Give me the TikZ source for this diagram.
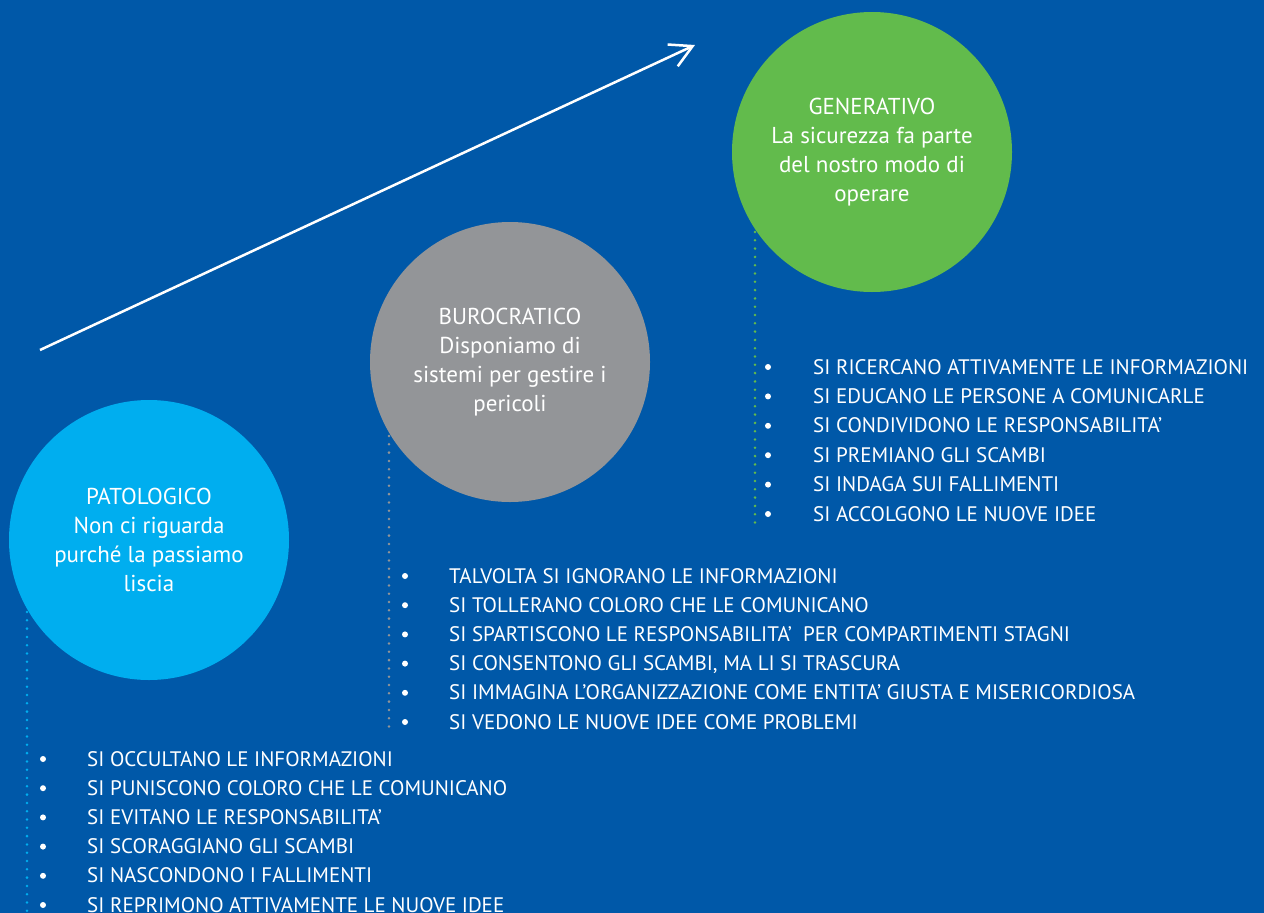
\documentclass[tikz,border=0pt]{standalone}
\usepackage{fontspec}
\setmainfont{PT Sans}
\usetikzlibrary{arrows.meta}
\definecolor{fondo}{RGB}{0,88,168}
\definecolor{verde}{RGB}{98,187,76}
\definecolor{grigio}{RGB}{147,149,152}
\definecolor{azzurro}{RGB}{0,174,239}
\begin{document}
\begin{tikzpicture}[x=1pt,y=-1pt]
        \tikzstyle{livello} = [circle, minimum size=280pt, inner sep=0pt, text=white, align=center, font=\fontsize{23}{29}\selectfont]
        \tikzstyle{voce} = [anchor=base west, inner sep=0pt, text=white, font=\fontsize{21}{24}\selectfont]
        \tikzstyle{punti} = [line width=2.8pt, dash pattern=on 0pt off 8.3pt, line cap=round]
        \tikzstyle{arrow} = [line width=2.5pt, white, -{Straight Barb[length=22pt, width=24pt, line width=2.5pt]}]
        \fill[fondo] (0,0) rectangle (1264,913);
        \useasboundingbox (0,0) rectangle (1264,913);
        % freccia di crescita
        \coordinate (s) at (40,350);
        \coordinate (t) at (695,45);
        \draw[arrow] (s) -- (t);
        % i tre livelli
        \node (gen) [livello, fill=verde] at (872,152) {GENERATIVO\\La sicurezza fa parte\\del nostro modo di\\operare};
        \node (buro) [livello, fill=grigio] at (510,362) {BUROCRATICO\\Disponiamo di\\sistemi per gestire i\\pericoli};
        \node (pato) [livello, fill=azzurro] at (149,540) {PATOLOGICO\\Non ci riguarda\\purché la passiamo\\liscia};
        % linee a puntini
        \coordinate (g1) at (755,232); \coordinate (g2) at (755,524);
        \coordinate (b1) at (389,436); \coordinate (b2) at (389,728);
        \coordinate (p1) at (27,612); \coordinate (p2) at (27,913);
        \draw[verde, punti] (g1) -- (g2);
        \draw[grigio, punti] (b1) -- (b2);
        \draw[azzurro, punti] (p1) -- (p2);
        % elenchi
        \foreach \t [count=\i] in {SI RICERCANO ATTIVAMENTE LE INFORMAZIONI, SI EDUCANO LE PERSONE A COMUNICARLE, SI CONDIVIDONO LE RESPONSABILITA’, SI PREMIANO GLI SCAMBI, SI INDAGA SUI FALLIMENTI, SI ACCOLGONO LE NUOVE IDEE}{
            \fill[white] (768,{367+29.4*(\i-1)}) circle (3pt);
            \node (g\i) [voce] at (813,{374+29.4*(\i-1)}) {\t};
        }
        \foreach \t [count=\i] in {TALVOLTA SI IGNORANO LE INFORMAZIONI, SI TOLLERANO COLORO CHE LE COMUNICANO, SI SPARTISCONO LE RESPONSABILITA’ \ PER COMPARTIMENTI STAGNI, {SI CONSENTONO GLI SCAMBI, MA LI SI TRASCURA}, SI IMMAGINA L’ORGANIZZAZIONE COME ENTITA’ GIUSTA E MISERICORDIOSA, SI VEDONO LE NUOVE IDEE COME PROBLEMI}{
            \fill[white] (405,{576+29.2*(\i-1)}) circle (3pt);
            \node (b\i) [voce] at (449,{583+29.2*(\i-1)}) {\t};
        }
        \foreach \t [count=\i] in {SI OCCULTANO LE INFORMAZIONI, SI PUNISCONO COLORO CHE LE COMUNICANO, SI EVITANO LE RESPONSABILITA’, SI SCORAGGIANO GLI SCAMBI, SI NASCONDONO I FALLIMENTI, SI REPRIMONO ATTIVAMENTE LE NUOVE IDEE}{
            \fill[white] (43,{759+29.2*(\i-1)}) circle (3pt);
            \node (p\i) [voce] at (87,{766+29.2*(\i-1)}) {\t};
        }
    \end{tikzpicture}
\end{document}
